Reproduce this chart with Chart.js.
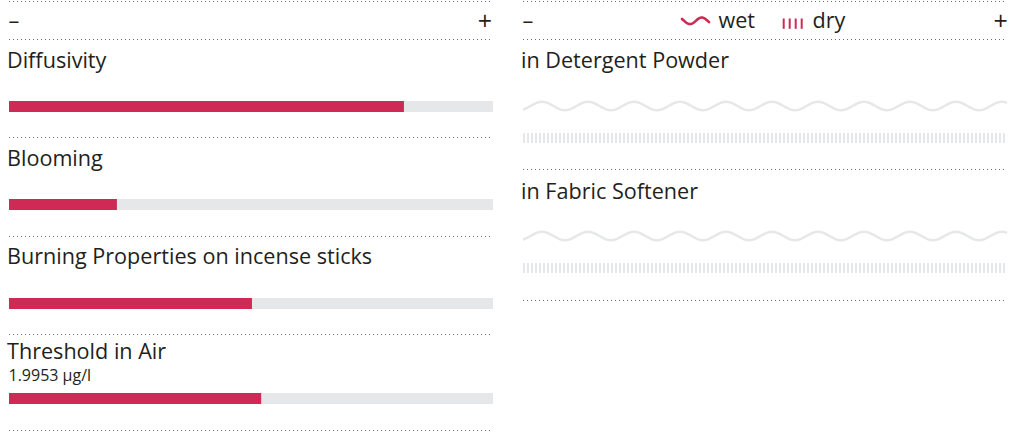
<!DOCTYPE html>
<html><head><meta charset="utf-8">
<script src="https://cdn.jsdelivr.net/npm/chart.js@4.4.1/dist/chart.umd.min.js"></script>
<style>
html,body{margin:0;padding:0;background:#fff;width:1010px;height:433px;overflow:hidden;}
#stage{position:relative;width:1010px;height:433px;font-family:"Open Sans",sans-serif;color:#231f20;}
.t{position:absolute;white-space:nowrap;line-height:1;}
.dots{position:absolute;height:1px;background-image:repeating-linear-gradient(to right,#6d6e71 0 1px,transparent 1px 4px);}
canvas{position:absolute;display:block;}
svg{position:absolute;overflow:visible;}
</style></head><body><div id="stage"></div>
<script>
// ---------- data ----------
const scaleMin = 0;
const scaleMax = 100;
const scaleTickLabels = ["–", "+"];
const propertyCategories = ["Diffusivity", "Blooming", "Burning Properties on incense sticks", "Threshold in Air"];
const propertyValues = [81.6, 22.3, 50.2, 52.1];
const propertyNotes = ["", "", "", "1.9953 µg/l"];
const substantivityCategories = ["in Detergent Powder", "in Fabric Softener"];
const wetValues = [0, 0];
const dryValues = [0, 0];
const legendLabels = ["wet", "dry"];

// ---------- style / layout ----------
const RED = "#cf2a56", GREY = "#e6e7e8";
const FS = 21.6, FS_SMALL = 16;
const LEFT = {x: 9, w: 484}, RIGHT = {x: 523, w: 484};
const leftSeps = [1, 39, 137, 236, 334, 430];
const rightSeps = [1, 39, 169, 300];
const propLabelBase = [68.5, 166, 264.3, 359.5];
const propNoteBase = 381.5;
const propBarTop = [101, 199, 298, 393];
const BAR_H = 11;
const subLabelBase = [68.5, 199.5];
const wetTop = [100, 230], WET_H = 12;
const dryTop = [133, 263], DRY_H = 10;

const stage = document.getElementById('stage');
function text(str, x, baseline, size) {
  const d = document.createElement('div');
  d.className = 't';
  d.textContent = str;
  d.style.fontSize = size + 'px';
  d.style.left = x + 'px';
  d.style.top = (baseline - 0.888 * size) + 'px';
  stage.appendChild(d);
  return d;
}
function dots(x, y, w) {
  const d = document.createElement('div');
  d.className = 'dots';
  d.style.left = x + 'px'; d.style.top = y + 'px'; d.style.width = w + 'px';
  stage.appendChild(d);
}
function canvasAt(x, y, w, h) {
  const c = document.createElement('canvas');
  c.width = w; c.height = h;
  c.style.left = x + 'px'; c.style.top = y + 'px';
  c.style.width = w + 'px'; c.style.height = h + 'px';
  stage.appendChild(c);
  return c;
}
function wavePattern(color) {
  const c = document.createElement('canvas'); c.width = 46; c.height = WET_H;
  const g = c.getContext('2d');
  g.strokeStyle = color; g.lineWidth = 2.4; g.beginPath();
  for (let x = -4; x <= 50; x += 0.5) {
    const y = WET_H / 2 - 4.2 * Math.sin(2 * Math.PI * (x - 7.5) / 46);
    if (x === -4) g.moveTo(x, y); else g.lineTo(x, y);
  }
  g.stroke();
  return g.createPattern(c, 'repeat');
}
function stripePattern(color) {
  const c = document.createElement('canvas'); c.width = 4; c.height = DRY_H;
  const g = c.getContext('2d');
  g.fillStyle = color; g.fillRect(0, 0, 2, DRY_H);
  return g.createPattern(c, 'repeat');
}
function barChart(canvas, label, value, fillOn, fillOff, thick) {
  return new Chart(canvas, {
    type: 'bar',
    data: {
      labels: [label],
      datasets: [
        {data: [value], backgroundColor: fillOn, grouped: false, barThickness: thick, borderWidth: 0, inflateAmount: 0},
        {data: [scaleMax], backgroundColor: fillOff, grouped: false, barThickness: thick, borderWidth: 0, inflateAmount: 0}
      ]
    },
    options: {
      indexAxis: 'y', responsive: false, animation: false, devicePixelRatio: 1, events: [],
      layout: {padding: 0},
      plugins: {legend: {display: false}, tooltip: {enabled: false}},
      scales: {
        x: {type: 'linear', min: scaleMin, max: scaleMax, display: false},
        y: {display: false}
      }
    }
  });
}

// separators
leftSeps.forEach(y => dots(LEFT.x, y, LEFT.w));
rightSeps.forEach(y => dots(RIGHT.x, y, RIGHT.w));

// scale ends
text(scaleTickLabels[0], 8.5, 28, FS);
text(scaleTickLabels[1], 477.8, 30, 25);
text(scaleTickLabels[0], 522.5, 28, FS);
text(scaleTickLabels[1], 993.5, 30, 25);

// legend
const svgNS = 'http://www.w3.org/2000/svg';
(function legend() {
  const s1 = document.createElementNS(svgNS, 'svg');
  s1.setAttribute('width', 36); s1.setAttribute('height', 20);
  s1.style.left = '678px'; s1.style.top = '10px';
  let d = '';
  for (let x = 4; x <= 31; x += 0.5) {
    const y = 10.8 + 3.3 * Math.cos(2 * Math.PI * (x - 12) / 23.4);
    d += (x === 4 ? 'M' : 'L') + x + ',' + y.toFixed(2);
  }
  const p = document.createElementNS(svgNS, 'path');
  p.setAttribute('d', d); p.setAttribute('fill', 'none'); p.setAttribute('stroke', RED);
  p.setAttribute('stroke-width', 2.6); p.setAttribute('stroke-linecap', 'round');
  s1.appendChild(p); stage.appendChild(s1);
  text(legendLabels[0], 718.5, 28.3, FS);

  const s2 = document.createElementNS(svgNS, 'svg');
  s2.setAttribute('width', 24); s2.setAttribute('height', 14);
  s2.style.left = '782px'; s2.style.top = '18px';
  for (let i = 0; i < 4; i++) {
    const r = document.createElementNS(svgNS, 'rect');
    r.setAttribute('x', 0.7 + i * 6); r.setAttribute('y', 0.5);
    r.setAttribute('width', 2); r.setAttribute('height', 10.3); r.setAttribute('fill', RED);
    s2.appendChild(r);
  }
  stage.appendChild(s2);
  text(legendLabels[1], 812.5, 28.3, FS);
})();

// left panel: properties
propertyCategories.forEach((cat, i) => {
  text(cat, 7, propLabelBase[i], FS);
  if (propertyNotes[i]) text(propertyNotes[i], 8.5, propNoteBase, FS_SMALL);
  const c = canvasAt(LEFT.x, propBarTop[i], LEFT.w, BAR_H);
  barChart(c, cat, propertyValues[i], RED, GREY, BAR_H);
});

// right panel: substantivity wet / dry
const waveOn = wavePattern(RED), waveOff = wavePattern(GREY);
const stripeOn = stripePattern(RED), stripeOff = stripePattern(GREY);
substantivityCategories.forEach((cat, i) => {
  text(cat, 521, subLabelBase[i], FS);
  const cw = canvasAt(RIGHT.x, wetTop[i], RIGHT.w, WET_H);
  barChart(cw, cat + ' – ' + legendLabels[0], wetValues[i], waveOn, waveOff, WET_H);
  const cd = canvasAt(RIGHT.x, dryTop[i], RIGHT.w, DRY_H);
  barChart(cd, cat + ' – ' + legendLabels[1], dryValues[i], stripeOn, stripeOff, DRY_H);
});
</script></body></html>
